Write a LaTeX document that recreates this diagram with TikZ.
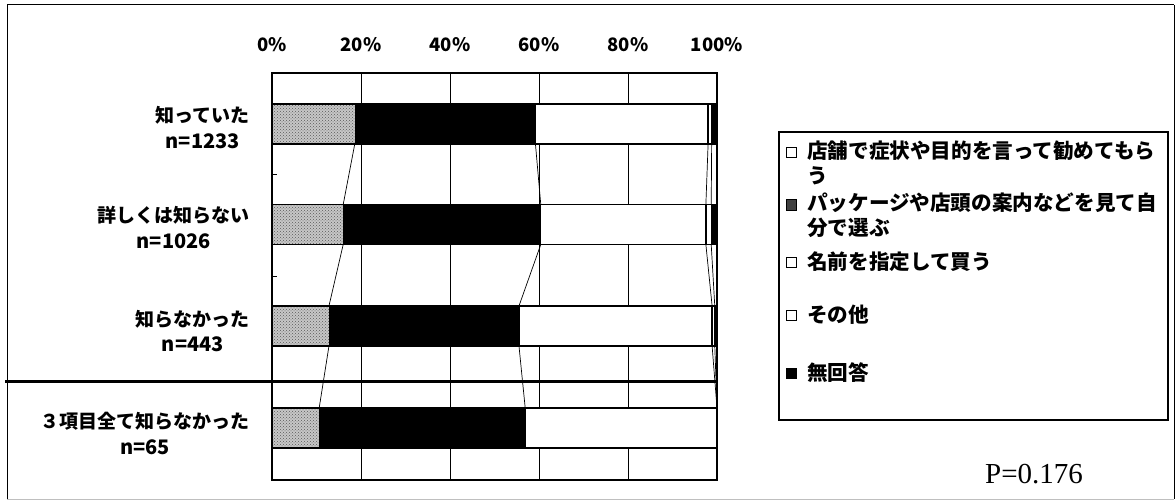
\documentclass[tikz,border=0pt]{standalone}
\usepackage{fontspec}
\newfontfamily\jp{Noto Sans CJK JP}
\newfontfamily\ser{Liberation Serif}
\usetikzlibrary{patterns}
\newcommand\nline[1]{{\fontsize{20}{25}\selectfont #1}}
\begin{document}
\begin{tikzpicture}[x=1pt,y=-1pt,
  lbl/.style={font=\jp\bfseries\fontsize{19}{25.5}\selectfont, align=center, anchor=east, inner sep=0pt},
  axl/.style={font=\jp\bfseries\fontsize{18.5}{20}\selectfont, inner sep=0pt},
  leg/.style={font=\jp\bfseries\fontsize{20.6}{25}\selectfont, align=left, anchor=west, inner sep=0pt},
  gridl/.style={line width=0.8pt, black},
  conn/.style={line width=0.7pt, black},
  stip/.style={fill=black!22, postaction={pattern=crosshatch dots, pattern color=black!65}},
  barline/.style={line width=1.3pt},
  legmark/.style={line width=1pt, draw=black}
]
\useasboundingbox (0,0) rectangle (1176,500);
% outer frame
\draw[line width=1pt] (7,5) -- (1174,5);
\draw[line width=1pt] (7,5) -- (7,499);
\draw[line width=1pt] (1174,5) -- (1174,499);
\draw[line width=1pt, black!25] (7,499) -- (1174,499);

% axis labels
\foreach \p/\t in {0/0\%,20/20\%,40/40\%,60/60\%,80/80\%,100/100\%}
  \node[axl] (ax\p) at (272+4.45*\p,45) {\t};

% gridlines
\foreach \p in {20,40,60,80}
  \draw[gridl] (272+4.45*\p,73) -- (272+4.45*\p,480);

% bars
\foreach \yc/\s/\k/\w/\o [count=\i] in {124/18.6/59.2/98.0/98.8, 224.5/16.0/60.4/97.5/98.7, 326/12.8/55.5/98.9/99.5, 428/10.6/56.9/100/100}{
  \pgfmathsetmacro\xs{272+4.45*\s}
  \pgfmathsetmacro\xk{272+4.45*\k}
  \pgfmathsetmacro\xw{272+4.45*\w}
  \pgfmathsetmacro\xo{272+4.45*\o}
  \pgfmathsetmacro\yt{\yc-20}
  \pgfmathsetmacro\yb{\yc+20}
  \path[stip] (272,\yt) rectangle (\xs,\yb);
  \fill[black] (\xs,\yt) rectangle (\xk,\yb);
  \draw[barline, fill=white] (\xk,\yt) rectangle (\xw,\yb);
  \draw[barline, fill=white] (\xw,\yt) rectangle (\xo,\yb);
  \fill[black] (\xo,\yt) rectangle (717,\yb);
  \draw[barline] (272,\yt) rectangle (717,\yb);
  \coordinate (s\i t) at (\xs,\yt); \coordinate (s\i b) at (\xs,\yb);
  \coordinate (k\i t) at (\xk,\yt); \coordinate (k\i b) at (\xk,\yb);
  \coordinate (w\i t) at (\xw,\yt); \coordinate (w\i b) at (\xw,\yb);
  \coordinate (o\i t) at (\xo,\yt); \coordinate (o\i b) at (\xo,\yb);
}
% series lines
\foreach \j in {s,k,w,o}
  \foreach \i/\n in {1/2,2/3,3/4}
    \draw[conn] (\j\i b) -- (\j\n t);

% plot frame, ticks, separator
\draw[line width=1.5pt] (272,73) rectangle (717,480);
\draw[line width=1pt] (272,175) -- (277,175);
\draw[line width=1pt] (272,276) -- (277,276);
\draw[line width=3pt] (5,381) -- (718,381);

% category labels
\node[lbl] (c1) at (250,127.5) {知っていた\\\nline{n=1233}};
\node[lbl] (c2) at (250,227.5) {詳しくは知らない\\\nline{n=1026}};
\node[lbl] (c3) at (250,331) {知らなかった\\\nline{n=443}};
\node[lbl] (c4) at (250,433.5) {３項目全て知らなかった\\\nline{n=65}};

% legend
\draw[line width=1.2pt] (779,132) rectangle (1168,420);
\draw[legmark, fill=white] (786,148) rectangle (796,158);
\node[leg, anchor=north west] (l1) at (807,141) {店舗で症状や目的を言って勧めてもら\\う};
\draw[legmark, fill=black!75] (786,200) rectangle (796,210);
\node[leg, anchor=north west] (l2) at (807,193) {パッケージや店頭の案内などを見て自\\分で選ぶ};
\draw[legmark, fill=white] (786,257) rectangle (796,267);
\node[leg] (l3) at (807,262) {名前を指定して買う};
\draw[legmark, fill=white] (786,310) rectangle (796,320);
\node[leg] (l4) at (807,315) {その他};
\draw[legmark, fill=black] (786,368) rectangle (796,378);
\node[leg] (l5) at (807,373) {無回答};

% p value
\node[font=\ser\fontsize{29}{30}\selectfont, inner sep=0pt] (pv) at (1034,474) {P=0.176};
\end{tikzpicture}
\end{document}
